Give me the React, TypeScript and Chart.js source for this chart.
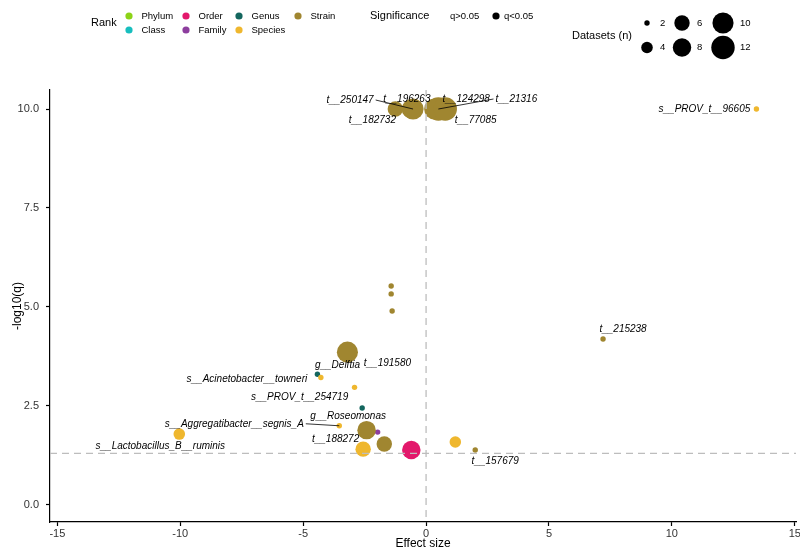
import React, { useEffect, useRef } from "react";
import { Chart, registerables } from "chart.js";

Chart.register(...registerables);

// ---- categories ----
const RANKS = ["Phylum", "Class", "Order", "Family", "Genus", "Species", "Strain"];
const RANK_COLORS = ["#8CD317", "#17BEBE", "#E3186B", "#8D3E9E", "#14665E", "#EFB72E", "#A08630"];
// drawing order (first = bottom)
const DRAW_ORDER = ["Phylum", "Class", "Family", "Genus", "Strain", "Order", "Species"];

// ---- data ----
const taxon = [
  "t__182732", "t__196263", "t__250147", "t__77085", "t__21316", "t__124298",
  "t__215238", "strain_a", "strain_b", "strain_c", "t__191580", "t__188272", "strain_d", "t__157679",
  "s__PROV_t__96605", "s__Acinetobacter__towneri", "s__PROV_t__254719", "s__Aggregatibacter__segnis_A",
  "s__Lactobacillus_B__ruminis", "species_a", "species_b",
  "g__Delftia", "g__Roseomonas", "family_a", "order_a",
];
const rank = [
  "Strain", "Strain", "Strain", "Strain", "Strain", "Strain",
  "Strain", "Strain", "Strain", "Strain", "Strain", "Strain", "Strain", "Strain",
  "Species", "Species", "Species", "Species",
  "Species", "Species", "Species",
  "Genus", "Genus", "Family", "Order",
];
const effectSize = [
  -1.25, -0.62, -0.53, 0.35, 0.5, 0.78,
  7.2, -1.42, -1.42, -1.38, -3.2, -2.42, -1.7, 2.0,
  13.44, -4.28, -2.91, -3.53,
  -10.04, -2.56, 1.19,
  -4.42, -2.6, -1.97, -0.6,
];
const negLog10Q = [
  10, 10, 10, 10, 10, 10,
  4.19, 5.53, 5.33, 4.9, 3.86, 1.89, 1.54, 1.39,
  10, 3.22, 2.97, 2.0,
  1.79, 1.41, 1.59,
  3.3, 2.45, 1.84, 1.39,
];
const datasetsN = [
  6, 8, 10, 10, 12, 12,
  2, 2, 2, 2, 10, 8, 6, 2,
  2, 2, 2, 2,
  4, 6, 4,
  2, 2, 2, 8,
];
const labelled = [
  true, true, true, true, true, true,
  true, false, false, false, true, true, false, true,
  true, true, true, true,
  true, false, false,
  true, true, false, false,
];
const SIZE_BREAKS = [2, 4, 6, 8, 10, 12];
const Y_TICKS = [0, 2.5, 5, 7.5, 10];
const Q_THRESHOLD = 0.05;

// ---- label placement (pixel nudges from point, leader line flag) ----
const labelNudge: Record<string, [number, number, boolean]> = {
  "t__182732": [-23, 11, false],
  "t__196263": [-4, -10, false],
  "t__250147": [-63, -9, true],
  "t__77085": [41, 11, false],
  "t__21316": [78, -10, true],
  "t__124298": [21, -10, false],
  "t__215238": [20, -10, false],
  "t__191580": [40, 11, false],
  "t__188272": [-31, 9, false],
  "t__157679": [20, 11, false],
  "s__PROV_t__96605": [-52, 0, false],
  "s__Acinetobacter__towneri": [-74, 2, false],
  "s__PROV_t__254719": [-55, 10, false],
  "s__Aggregatibacter__segnis_A": [-105, -2, true],
  "s__Lactobacillus_B__ruminis": [-19, 12, false],
  "g__Delftia": [20, -9, false],
  "g__Roseomonas": [-14, 8, false],
};

const FONT = "'Liberation Sans', Arial, Helvetica, sans-serif";

const radiusOf = (n: number) => Math.sqrt(7.3 + 13 * (n - 2));
const colorOf = (r: string) => RANK_COLORS[RANKS.indexOf(r)];

const overlayPlugin = {
  id: "overlay",
  afterDatasetsDraw(chart: any) {
    const { ctx, chartArea, scales } = chart;
    const xs = scales.x;
    const ys = scales.y;
    ctx.save();
    // reference lines
    ctx.strokeStyle = "#BDBDBD";
    ctx.lineWidth = 1.3;
    ctx.setLineDash([7, 5]);
    const yq = ys.getPixelForValue(-Math.log10(Q_THRESHOLD));
    ctx.beginPath();
    ctx.moveTo(chartArea.left, yq);
    ctx.lineTo(chartArea.right, yq);
    ctx.stroke();
    const x0 = xs.getPixelForValue(0);
    ctx.beginPath();
    ctx.moveTo(x0, chartArea.top);
    ctx.lineTo(x0, chartArea.bottom);
    ctx.stroke();
    ctx.setLineDash([]);

    // labels
    ctx.font = `italic 10px ${FONT}`;
    ctx.fillStyle = "#000";
    ctx.textAlign = "center";
    ctx.textBaseline = "middle";
    taxon.forEach((t, i) => {
      if (!labelled[i]) return;
      const nudge = labelNudge[t];
      if (!nudge) return;
      const px = xs.getPixelForValue(effectSize[i]);
      const py = ys.getPixelForValue(negLog10Q[i]);
      const lx = px + nudge[0];
      const ly = py + nudge[1];
      const w = ctx.measureText(t).width;
      if (nudge[2]) {
        const ex = nudge[0] > 0 ? lx - w / 2 - 2 : lx + w / 2 + 2;
        ctx.strokeStyle = "#000";
        ctx.lineWidth = 0.8;
        ctx.beginPath();
        ctx.moveTo(ex, ly);
        ctx.lineTo(px, py);
        ctx.stroke();
      }
      ctx.fillText(t, lx, ly);
    });
    ctx.restore();
  },
  afterDraw(chart: any) {
    const ctx = chart.ctx;
    ctx.save();
    ctx.textBaseline = "middle";
    ctx.textAlign = "left";
    ctx.fillStyle = "#000";
    // Rank legend
    ctx.font = `11px ${FONT}`;
    ctx.fillText("Rank", 91, 23);
    const rankLayout: [string, number, number][] = [
      ["Phylum", 129, 16], ["Class", 129, 30],
      ["Order", 186, 16], ["Family", 186, 30],
      ["Genus", 239, 16], ["Species", 239, 30],
      ["Strain", 298, 16],
    ];
    rankLayout.forEach(([r, x, y]) => {
      ctx.fillStyle = colorOf(r);
      ctx.beginPath();
      ctx.arc(x, y, 3.6, 0, Math.PI * 2);
      ctx.fill();
      ctx.fillStyle = "#000";
      ctx.font = `9.5px ${FONT}`;
      ctx.fillText(r, x + 12.5, y);
    });
    // Significance legend
    ctx.font = `11px ${FONT}`;
    ctx.fillText("Significance", 370, 16);
    ctx.font = `9.5px ${FONT}`;
    ctx.fillText("q>0.05", 450, 16);
    ctx.beginPath();
    ctx.arc(496, 16, 3.6, 0, Math.PI * 2);
    ctx.fill();
    ctx.fillText("q<0.05", 504, 16);
    // Size legend
    ctx.font = `11px ${FONT}`;
    ctx.fillText("Datasets (n)", 572, 36);
    const cols = [[647, 660], [682, 697], [723, 740]];
    SIZE_BREAKS.forEach((n, k) => {
      const c = cols[Math.floor(k / 2)];
      const y = k % 2 === 0 ? 23 : 47.5;
      ctx.beginPath();
      ctx.arc(c[0], y, radiusOf(n), 0, Math.PI * 2);
      ctx.fill();
      ctx.font = `9.5px ${FONT}`;
      ctx.fillText(String(n), c[1], y);
    });
    ctx.restore();
  },
};

export default function App() {
  const ref = useRef<HTMLCanvasElement>(null);
  useEffect(() => {
    document.body.style.margin = "0";
    const datasets = DRAW_ORDER.slice()
      .reverse()
      .map((r) => ({
        label: r,
        data: taxon
          .map((_, i) => i)
          .filter((i) => rank[i] === r)
          .map((i) => ({ x: effectSize[i], y: negLog10Q[i], r: radiusOf(datasetsN[i]) })),
        backgroundColor: colorOf(r),
        borderWidth: 0,
        hoverBorderWidth: 0,
        clip: false,
      }));
    const chart = new Chart(ref.current as HTMLCanvasElement, {
      type: "bubble",
      data: { datasets },
      options: {
        animation: false,
        responsive: false,
        devicePixelRatio: 1,
        layout: { autoPadding: false, padding: { top: 90, right: 4, left: 0, bottom: 0 } },
        plugins: { legend: { display: false }, tooltip: { enabled: false } },
        scales: {
          x: {
            type: "linear",
            min: -15.3,
            max: 15.05,
            afterFit: (s: any) => {
              s.height = 38;
              s.paddingLeft = 0;
              s.paddingRight = 4;
            },
            ticks: {
              stepSize: 5,
              includeBounds: false,
              color: "#333",
              font: { family: FONT, size: 11 },
              padding: 1,
              maxRotation: 0,
            },
            grid: { drawOnChartArea: false, drawTicks: true, tickLength: 4, color: "#000", tickWidth: 1.2 },
            border: { display: true, color: "#000", width: 1.2 },
            title: { display: true, text: "Effect size", color: "#000", font: { family: FONT, size: 12 }, padding: { top: 0, bottom: 9 } },
          },
          y: {
            type: "linear",
            min: -0.43,
            max: 10.48,
            afterFit: (s: any) => {
              s.width = 50;
              s.paddingTop = 0;
              s.paddingBottom = 0;
            },
            afterBuildTicks: (s: any) => {
              s.ticks = Y_TICKS.map((v) => ({ value: v }));
            },
            ticks: {
              color: "#333",
              font: { family: FONT, size: 11 },
              padding: 7,
              callback: (v: any) => Number(v).toFixed(1),
            },
            grid: { drawOnChartArea: false, drawTicks: true, tickLength: 4, color: "#000", tickWidth: 1.2 },
            border: { display: true, color: "#000", width: 1.2 },
            title: { display: true, text: "-log10(q)", color: "#000", font: { family: FONT, size: 12 }, padding: { top: 10, bottom: 0 } },
          },
        },
      },
      plugins: [overlayPlugin],
    } as any);
    return () => chart.destroy();
  }, []);
  return <canvas ref={ref} width={800} height={560} style={{ display: "block" }} />;
}
